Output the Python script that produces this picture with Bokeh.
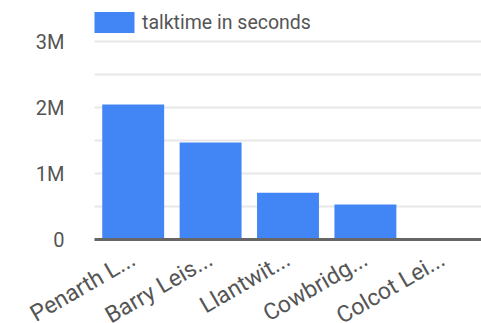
import math
from bokeh.plotting import figure
from bokeh.models import (FixedTicker, CustomJSTickFormatter, Legend, LegendItem,
                          ColumnDataSource, Range1d)
from bokeh.embed import file_html
from bokeh.resources import INLINE

categories = ["Penarth L...", "Barry Leis...", "Llantwit...", "Cowbridg...", "Colcot Lei..."]
talktime = [2045000, 1470000, 710000, 530000, 0]
series_name = "talktime in seconds"
y_ticks = [0, 1000000, 2000000, 3000000]
y_minor = [500000, 1500000, 2500000]

n = len(categories)
xpos = [i + 0.5 for i in range(n)]
src = ColumnDataSource(dict(x=xpos, cat=categories, val=talktime))
grid_src = ColumnDataSource(dict(y=y_ticks + y_minor))

TEXT = "#555555"
W, H = 481, 323
CHART_LEFT, CHART_W = 94, 387          # chart area in pixels
TOP_PX, ZERO_PX = 41, 239              # pixel rows of 3M and 0

# The frame covers the whole figure; the ranges put the chart area where the
# reference has it and leave room inside the frame for the texts.
unit = CHART_W / n
x_start = -CHART_LEFT / unit
x_end = (W - CHART_LEFT) / unit
px_per_val = (ZERO_PX - TOP_PX) / y_ticks[-1]
y_start = -(H - ZERO_PX) / px_per_val
y_end = ZERO_PX / px_per_val

p = figure(x_range=Range1d(x_start, x_end), y_range=Range1d(y_start, y_end),
           width=W, height=H, output_backend="svg", toolbar_location=None,
           min_border_left=0, min_border_right=0, min_border_top=0, min_border_bottom=0)
p.outline_line_color = None
p.background_fill_color = "white"
p.border_fill_color = "white"
p.xgrid.visible = False
p.ygrid.visible = False

p.segment(x0=0, x1=n, y0="y", y1="y", source=grid_src, line_color="#e8e8e8",
          line_width=2, level="underlay")

r = p.vbar(x="x", top="val", bottom=0, width=0.8, source=src, color="#4285f4", line_color=None)

ya = p.yaxis[0]
ya.fixed_location = 0
ya.ticker = FixedTicker(ticks=y_ticks)
ya.formatter = CustomJSTickFormatter(code="return tick == 0 ? '0' : (tick/1e6) + 'M';")
ya.axis_line_color = None
ya.major_tick_line_color = None
ya.minor_tick_line_color = None
ya.major_label_text_font = "Roboto"
ya.major_label_text_font_size = "20px"
ya.major_label_text_color = TEXT
ya.major_label_standoff = 24

xa = p.xaxis[0]
xa.fixed_location = 0
xa.bounds = (0, n)
xa.ticker = FixedTicker(ticks=xpos)
xa.major_label_overrides = {x: c for x, c in zip(xpos, categories)}
xa.axis_line_color = "#666666"
xa.axis_line_width = 3
xa.major_tick_line_color = None
xa.minor_tick_line_color = None
xa.major_label_orientation = math.pi / 6
xa.major_label_text_font = "Roboto"
xa.major_label_text_font_size = "23px"
xa.major_label_text_color = TEXT
xa.major_label_standoff = 12

legend = Legend(items=[LegendItem(label=series_name, renderers=[r])],
                location=(CHART_LEFT - 5, 288), orientation="horizontal",
                glyph_width=50, glyph_height=26, label_height=26,
                label_standoff=3, padding=0, margin=0, spacing=0,
                border_line_color=None, background_fill_alpha=0,
                label_text_font="Roboto", label_text_font_size="19.5px",
                label_text_color=TEXT)
p.add_layout(legend)

open("out.html", "w").write(file_html(p, INLINE))
